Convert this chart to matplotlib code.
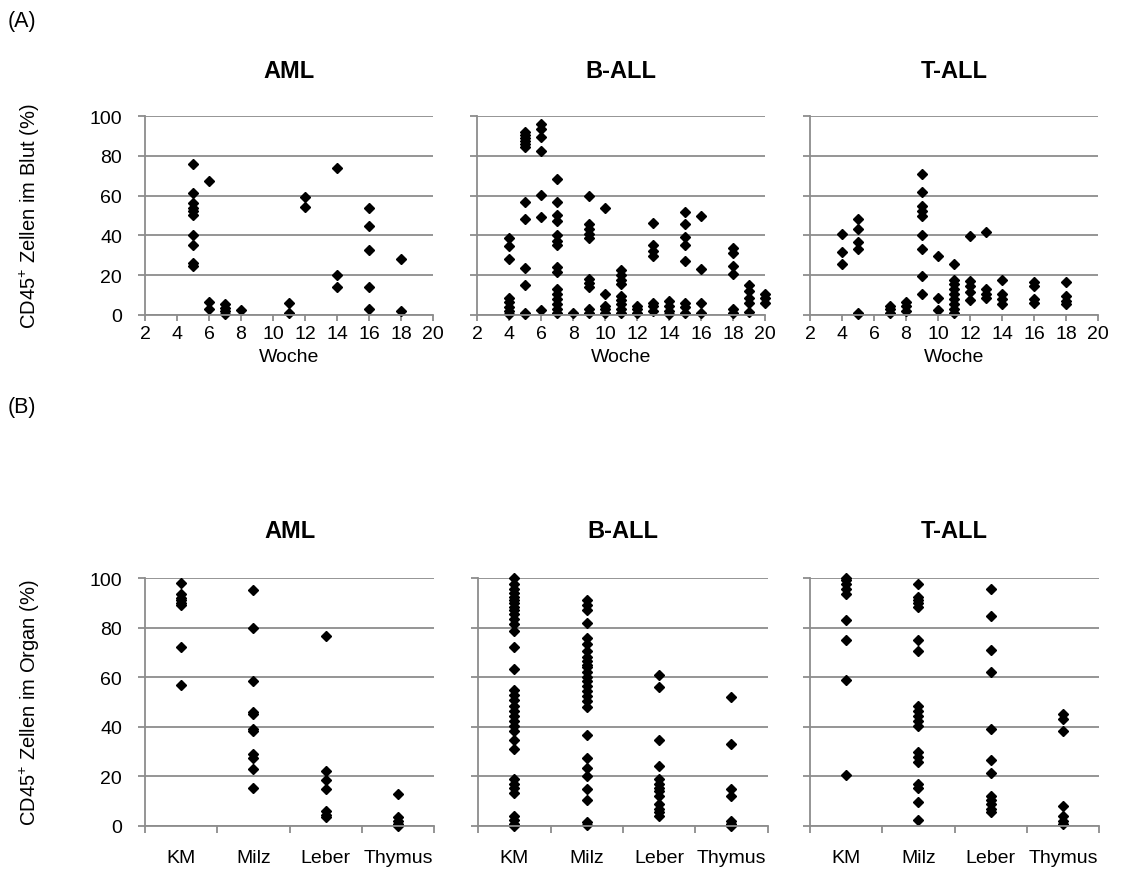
import matplotlib
matplotlib.use("Agg")
import matplotlib.pyplot as plt

plt.rcParams["font.family"] = ["Liberation Sans", "DejaVu Sans"]
plt.rcParams["mathtext.fontset"] = "custom"
plt.rcParams["mathtext.rm"] = "Liberation Sans"
plt.rcParams["mathtext.it"] = "Liberation Sans:italic"
plt.rcParams["mathtext.bf"] = "Liberation Sans:bold"

# ---- (A) CD45+ cells in blood over time (weeks) ----
aml_blood_weeks = [5] * 10 + [6] * 3 + [7] * 4 + [8] + [11] * 2 + [12] * 2 + [14] * 3 + [16] * 5 + [18] * 2
aml_blood_values = [76, 61.5, 56.5, 54, 52.5, 50.5, 40, 35, 26, 24.5,
                    67.5, 6.5, 3,
                    5.5, 3.5, 2, 0.5,
                    2.5,
                    6, 0.8,
                    59.5, 54.5,
                    74, 20, 14,
                    54, 44.5, 32.5, 14, 3,
                    28, 2]

ball_blood_weeks = ([4] * 8 + [5] * 12 + [6] * 7 + [7] * 15 + [8] + [9] * 10 + [10] * 5 + [11] * 9
                    + [12] * 3 + [13] * 7 + [14] * 4 + [15] * 8 + [16] * 4 + [18] * 6 + [19] * 5 + [20] * 3)
ball_blood_values = [38.5, 34.5, 28, 8.5, 6.5, 4, 2, 0.5,
                     92, 90.5, 89, 87.5, 86, 84.5, 57, 48, 23.5, 15, 1, 0.5,
                     96, 93.5, 89.5, 82.5, 60.5, 49, 2.5,
                     68.5, 57, 50.5, 47, 40, 37, 35, 24, 21.5, 13, 10.5, 8, 5.5, 3, 1,
                     1,
                     60, 45.5, 43, 40.5, 38.5, 18, 16, 14, 3, 1,
                     54, 10.5, 4.5, 3, 1.2,
                     22.5, 20, 17.5, 15.5, 9.5, 7.5, 5.5, 3, 1,
                     4.5, 3, 1,
                     46, 35, 32, 29.5, 6, 4.5, 2,
                     7, 4.5, 2, 0.5,
                     52, 45.5, 39, 35, 27, 6, 4, 1,
                     50, 23, 6, 1,
                     33.5, 31, 24.5, 20.5, 3, 1,
                     15, 12, 8.5, 6, 1.5,
                     10.5, 8.5, 6]

tall_blood_weeks = ([4] * 3 + [5] * 6 + [7] * 3 + [8] * 3 + [9] * 9 + [10] * 3 + [11] * 9
                    + [12] * 5 + [13] * 4 + [14] * 4 + [16] * 4 + [18] * 4)
tall_blood_values = [40.5, 31.5, 25.5,
                     48, 43, 36.5, 33, 1.2, 0.4,
                     4.5, 3, 1,
                     6.5, 4.5, 2,
                     71, 62, 55, 52.5, 50, 40, 33, 19.5, 10.5,
                     29.5, 8.5, 2.5,
                     25.5, 17.5, 15.5, 13, 10.5, 8, 5.5, 3, 1,
                     39.5, 17, 14.5, 11.5, 7.5,
                     41.5, 13, 10.5, 8.5,
                     17.5, 10.5, 8, 5.5,
                     16.5, 14.5, 8, 6,
                     16.5, 9.5, 7, 5.5]

week_ticks = list(range(2, 21, 2))

# ---- (B) CD45+ cells per organ ----
organs = ["KM", "Milz", "Leber", "Thymus"]

aml_km = [98, 93.5, 92, 91, 90, 89, 72, 57]
aml_milz = [95, 80, 58.5, 46, 45, 39, 38.5, 29, 27.5, 23, 15.5]
aml_leber = [76.5, 22, 18.5, 15, 6, 4.5, 3.5]
aml_thymus = [13, 3.5, 2, 0.7, 0]

ball_km = [100, 97.5, 95.5, 94, 92.5, 91, 90, 88.5, 87, 85.5, 83.5, 81.5, 78.5, 72, 63.5,
           55, 53, 51, 48.5, 46.5, 44.5, 42.5, 40.5, 38.5, 34.5, 31,
           19, 17, 15.5, 13.5, 4, 2.5, 1, 0]
ball_milz = [91, 89, 87, 82, 76, 73.5, 70.5, 68, 66.5, 65, 64, 62, 60, 58.5, 56.5, 54.5,
             52.5, 50.5, 48, 36.5, 27.5, 23.5, 20, 15, 10.5, 1.5, 0.5]
ball_leber = [61, 56, 34.5, 24, 19, 17, 15.5, 14, 12, 9, 7, 5.5, 4]
ball_thymus = [52, 33, 15, 12, 2, 1, 0.5, 0]

tall_km = [100, 99, 97.5, 95.5, 93.5, 83, 75, 59, 20.5]
tall_milz = [97.5, 92.5, 91, 90, 88.5, 75, 70.5, 48.5, 46.5, 44.5, 42.5, 40.5,
             30, 28, 26, 17, 15.5, 9.5, 2.5]
tall_leber = [95.5, 84.5, 71, 62, 39, 26.5, 21.5, 12, 10.5, 9, 7, 5.5]
tall_thymus = [45, 43, 38.5, 8, 4, 2, 0.7]

groups = ["AML", "B-ALL", "T-ALL"]
blood = [(aml_blood_weeks, aml_blood_values),
         (ball_blood_weeks, ball_blood_values),
         (tall_blood_weeks, tall_blood_values)]
organ_data = [[aml_km, aml_milz, aml_leber, aml_thymus],
              [ball_km, ball_milz, ball_leber, ball_thymus],
              [tall_km, tall_milz, tall_leber, tall_thymus]]

W, H = 1121, 878
fig = plt.figure(figsize=(W / 100, H / 100), dpi=100)

GRID = "#8c8c8c"
FS = 14
FS_TITLE = 17
FS_YLABEL = 14.5
FS_PANEL = 15.5
MS = 5.6


def px_axes(x0, y0, x1, y1):
    return fig.add_axes([x0 / W, 1 - y1 / H, (x1 - x0) / W, (y1 - y0) / H])


def style(ax, show_ylabels):
    ax.set_ylim(0, 100)
    ax.set_yticks(range(0, 101, 20))
    ax.yaxis.grid(True, color=GRID, linewidth=1.3)
    ax.set_axisbelow(True)
    for s in ("top", "right"):
        ax.spines[s].set_visible(False)
    for s in ("left", "bottom"):
        ax.spines[s].set_color(GRID)
        ax.spines[s].set_linewidth(1.3)
    ax.tick_params(axis="both", which="major", direction="out", color=GRID,
                   width=1.3, labelsize=FS, labelcolor="black")
    ax.tick_params(axis="y", length=5, pad=11.5)
    if not show_ylabels:
        ax.tick_params(axis="y", labelleft=False)


top_left = [145, 477.3, 810]
span_top = 288
bot_left = [145, 478.3, 810]
span_bot = 289.2

for i, (g, (wk, val)) in enumerate(zip(groups, blood)):
    x0 = top_left[i]
    ax = px_axes(x0, 117, x0 + span_top, 316)
    ax.plot(wk, val, linestyle="none", marker="D", ms=MS, color="black", clip_on=False)
    ax.set_xlim(2, 20)
    ax.set_xticks(week_ticks)
    style(ax, i == 0)
    ax.tick_params(axis="x", length=4, pad=3.5)
    fig.text((x0 + span_top / 2) / W, 1 - 72 / H, g, ha="center", va="center",
             fontsize=FS_TITLE, fontweight="bold")
    fig.text((x0 + span_top / 2) / W, 1 - 358 / H, "Woche", ha="center", va="center",
             fontsize=FS)

for i, (g, cols) in enumerate(zip(groups, organ_data)):
    x0 = bot_left[i]
    ax = px_axes(x0, 579, x0 + span_bot, 827)
    for j, vals in enumerate(cols):
        ax.plot([j + 0.5] * len(vals), vals, linestyle="none", marker="D", ms=MS,
                color="black", clip_on=False)
    ax.set_xlim(0, len(organs))
    ax.set_xticks(range(len(organs) + 1))
    ax.set_xticklabels([])
    ax.set_xticks([j + 0.5 for j in range(len(organs))], minor=True)
    ax.set_xticklabels(organs, minor=True)
    style(ax, i == 0)
    ax.tick_params(axis="x", which="major", length=5)
    ax.tick_params(axis="x", which="minor", length=0, pad=16.5, labelsize=FS)
    fig.text((x0 + span_bot / 2) / W, 1 - 531 / H, g, ha="center", va="center",
             fontsize=FS_TITLE, fontweight="bold")

fig.text(30 / W, 1 - 216 / H, "CD45$^{+}$ Zellen im Blut (%)", rotation=90,
         ha="center", va="center", fontsize=FS_YLABEL)
fig.text(30 / W, 1 - 703 / H, "CD45$^{+}$ Zellen im Organ (%)", rotation=90,
         ha="center", va="center", fontsize=FS_YLABEL)
fig.text(8 / W, 1 - 22 / H, "(A)", ha="left", va="center", fontsize=FS_PANEL)
fig.text(8 / W, 1 - 407 / H, "(B)", ha="left", va="center", fontsize=FS_PANEL)

fig.savefig("out.png", dpi=100)
